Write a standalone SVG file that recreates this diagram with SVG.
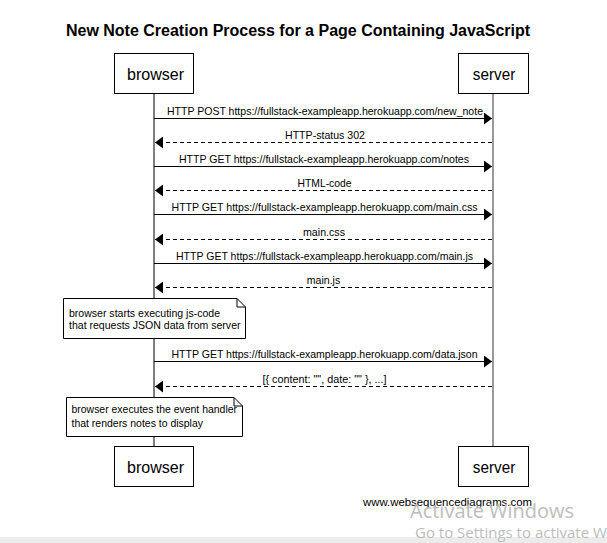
<svg xmlns="http://www.w3.org/2000/svg" width="607" height="543" viewBox="0 0 607 543">
<style>
text{font-family:"Liberation Sans",Arial,sans-serif;fill:#000}
.title{font-size:16px;font-weight:bold;text-anchor:middle}
.actor rect{fill:#fff;stroke:#000;stroke-width:1}
.actor text{font-size:16.5px;text-anchor:middle}
.msg{font-size:10.5px;text-anchor:middle}
.note path{fill:#fff;stroke:#000;stroke-width:1}
.note text{font-size:10.5px}
.solid{stroke:#000;stroke-width:1;fill:none}
.dashed{stroke:#000;stroke-width:1;fill:none;stroke-dasharray:4 3}
.wm{font-family:"Segoe UI","Open Sans","Noto Sans",sans-serif;fill:#bdbdbd}
</style>
<defs>
<marker id="ahR" markerWidth="8" markerHeight="12" refX="8" refY="6" orient="auto" markerUnits="userSpaceOnUse">
<path d="M0,0 L8,6 L0,12 Z" fill="#000"/>
</marker>
</defs>
<rect width="607" height="543" fill="#fff"/>
<text class="title" x="298" y="36">New Note Creation Process for a Page Containing JavaScript</text>
<g id="lifelines">
<line x1="154" y1="93" x2="154" y2="446" stroke="#000" stroke-width="1"/>
<line x1="493" y1="93" x2="493" y2="446" stroke="#999" stroke-width="2"/>
</g>
<g id="browser-top" class="actor"><rect x="114.5" y="53.5" width="79" height="40"/><text x="155.5" y="79.5" textLength="57" lengthAdjust="spacingAndGlyphs">browser</text></g>
<g id="server-top" class="actor"><rect x="458.5" y="53.5" width="70" height="40"/><text x="494" y="79.5" textLength="42.5" lengthAdjust="spacingAndGlyphs">server</text></g>
<g id="browser-bottom" class="actor"><rect x="114.5" y="446.5" width="79" height="40"/><text x="155.5" y="472.5" textLength="57" lengthAdjust="spacingAndGlyphs">browser</text></g>
<g id="server-bottom" class="actor"><rect x="458.5" y="446.5" width="70" height="40"/><text x="494" y="472.5" textLength="42.5" lengthAdjust="spacingAndGlyphs">server</text></g>
<g id="connectors">
<line class="solid" x1="154" y1="118.5" x2="492" y2="118.5" marker-end="url(#ahR)"/>
<text class="msg" x="325" y="115" textLength="316" lengthAdjust="spacingAndGlyphs">HTTP POST https://fullstack-exampleapp.herokuapp.com/new_note</text>
<line class="dashed" x1="492" y1="142.5" x2="155" y2="142.5" marker-end="url(#ahR)"/>
<text class="msg" x="325" y="139" textLength="80" lengthAdjust="spacingAndGlyphs">HTTP-status 302</text>
<line class="solid" x1="154" y1="166.5" x2="492" y2="166.5" marker-end="url(#ahR)"/>
<text class="msg" x="324" y="163" textLength="290" lengthAdjust="spacingAndGlyphs">HTTP GET https://fullstack-exampleapp.herokuapp.com/notes</text>
<line class="dashed" x1="492" y1="190.5" x2="155" y2="190.5" marker-end="url(#ahR)"/>
<text class="msg" x="324.5" y="187" textLength="54" lengthAdjust="spacingAndGlyphs">HTML-code</text>
<line class="solid" x1="154" y1="214.5" x2="492" y2="214.5" marker-end="url(#ahR)"/>
<text class="msg" x="324.5" y="211" textLength="306" lengthAdjust="spacingAndGlyphs">HTTP GET https://fullstack-exampleapp.herokuapp.com/main.css</text>
<line class="dashed" x1="492" y1="239.5" x2="155" y2="239.5" marker-end="url(#ahR)"/>
<text class="msg" x="324" y="236" textLength="42" lengthAdjust="spacingAndGlyphs">main.css</text>
<line class="solid" x1="154" y1="263.5" x2="492" y2="263.5" marker-end="url(#ahR)"/>
<text class="msg" x="324.5" y="260" textLength="297" lengthAdjust="spacingAndGlyphs">HTTP GET https://fullstack-exampleapp.herokuapp.com/main.js</text>
<line class="dashed" x1="492" y1="287.5" x2="155" y2="287.5" marker-end="url(#ahR)"/>
<text class="msg" x="323.5" y="284" textLength="33.5" lengthAdjust="spacingAndGlyphs">main.js</text>
<line class="solid" x1="154" y1="361.5" x2="492" y2="361.5" marker-end="url(#ahR)"/>
<text class="msg" x="324.5" y="358" textLength="306" lengthAdjust="spacingAndGlyphs">HTTP GET https://fullstack-exampleapp.herokuapp.com/data.json</text>
<line class="dashed" x1="492" y1="386.5" x2="155" y2="386.5" marker-end="url(#ahR)"/>
<text class="msg" x="324.5" y="383" textLength="124" lengthAdjust="spacingAndGlyphs">[{ content: "", date: "" }, ...]</text>
</g>
<g id="note-js" class="note">
<path d="M63.5,298.5 H237 L245.5,307 V338.5 H63.5 Z M237,298.5 V307 H245.5"/>
<text x="69" y="316.5" textLength="151" lengthAdjust="spacingAndGlyphs">browser starts executing js-code</text>
<text x="69" y="329" textLength="171.5" lengthAdjust="spacingAndGlyphs">that requests JSON data from server</text>
</g>
<g id="note-render" class="note">
<path d="M66.5,397.5 H234 L242.5,406 V436.5 H66.5 Z M234,397.5 V406 H242.5"/>
<text x="71.5" y="413" textLength="165.5" lengthAdjust="spacingAndGlyphs">browser executes the event handler</text>
<text x="71.5" y="427" textLength="131.5" lengthAdjust="spacingAndGlyphs">that renders notes to display</text>
</g>
<text x="363" y="506" font-size="11" textLength="169" lengthAdjust="spacingAndGlyphs">www.websequencediagrams.com</text>
<rect x="0" y="537" width="607" height="6" fill="#ececec"/>
<text class="wm" x="410" y="518" font-size="20">Activate Windows</text>
<text class="wm" x="415" y="538" font-size="15">Go to Settings to activate Wi</text>
</svg>
